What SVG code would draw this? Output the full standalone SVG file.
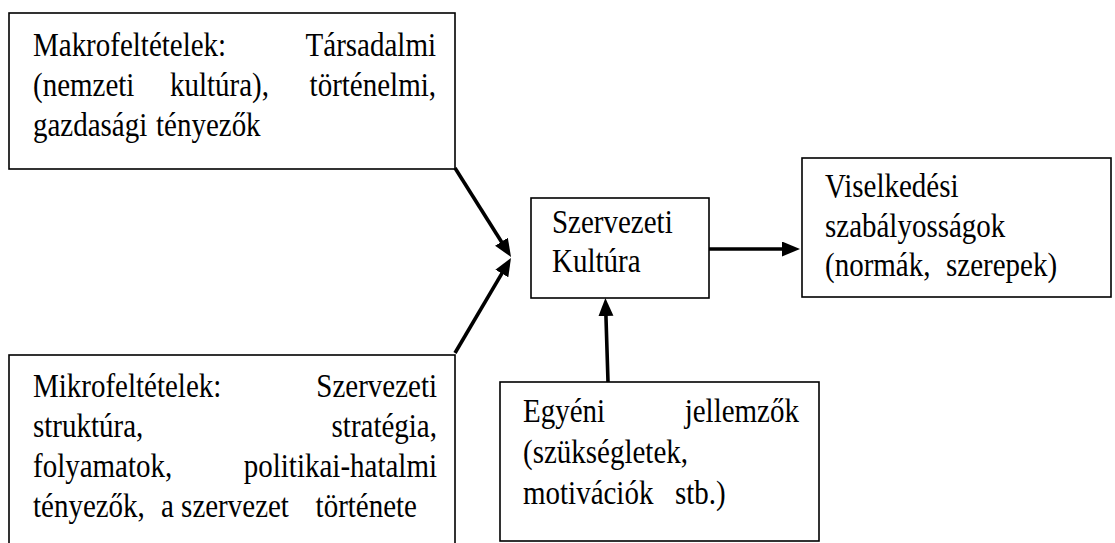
<svg xmlns="http://www.w3.org/2000/svg" width="1115" height="543" viewBox="0 0 1115 543">
<style>
.box{fill:#fff;stroke:#000;stroke-width:1.6}
.t{font-family:"Liberation Serif","Times New Roman",serif;font-size:29px;fill:#000}
.c{stroke:#000;stroke-width:3.6;fill:none}
</style>
<defs>
<marker id="ah" markerUnits="userSpaceOnUse" markerWidth="19" markerHeight="16" refX="8" refY="7.5" orient="auto">
<path d="M0,0 L18,7.5 L0,15 z" fill="#000"/>
</marker>
</defs>
<rect width="1115" height="543" fill="#fff"/>
<g id="connectors">
<line class="c" x1="455" y1="168" x2="505.7" y2="248.5" marker-end="url(#ah)"/>
<line class="c" x1="455" y1="353" x2="505.9" y2="266.6" marker-end="url(#ah)"/>
<line class="c" x1="709" y1="249" x2="790" y2="249" marker-end="url(#ah)"/>
<line class="c" x1="608" y1="382" x2="605.7" y2="308" marker-end="url(#ah)"/>
</g>
<g id="makro">
<rect class="box" x="9" y="13" width="446" height="156"/>
<text class="t" transform="matrix(1,0,0,1.18,0,56)"><tspan x="33">Makrofeltételek:</tspan><tspan x="436" text-anchor="end">Társadalmi</tspan></text>
<text class="t" transform="matrix(1,0,0,1.18,0,96)"><tspan x="33">(nemzeti</tspan><tspan x="170">kultúra),</tspan><tspan x="436" text-anchor="end">történelmi,</tspan></text>
<text class="t" transform="matrix(1,0,0,1.18,0,136)"><tspan x="33">gazdasági</tspan><tspan x="156">tényezők</tspan></text>
</g>
<g id="mikro">
<rect class="box" x="9" y="355" width="446" height="200"/>
<text class="t" transform="matrix(1,0,0,1.18,0,397)"><tspan x="33">Mikrofeltételek:</tspan><tspan x="437" text-anchor="end">Szervezeti</tspan></text>
<text class="t" transform="matrix(1,0,0,1.18,0,437)"><tspan x="33">struktúra,</tspan><tspan x="437" text-anchor="end">stratégia,</tspan></text>
<text class="t" transform="matrix(1,0,0,1.18,0,477)"><tspan x="33">folyamatok,</tspan><tspan x="437" text-anchor="end">politikai-hatalmi</tspan></text>
<text class="t" transform="matrix(1,0,0,1.18,0,517)"><tspan x="33">tényezők,</tspan><tspan x="161">a szervezet</tspan><tspan x="417" text-anchor="end">története</tspan></text>
</g>
<g id="szervezeti">
<rect class="box" x="531" y="198" width="178" height="100"/>
<text class="t" transform="matrix(1,0,0,1.18,0,233)"><tspan x="552">Szervezeti</tspan></text>
<text class="t" transform="matrix(1,0,0,1.18,0,272)"><tspan x="552">Kultúra</tspan></text>
</g>
<g id="viselkedesi">
<rect class="box" x="802" y="158" width="309" height="139"/>
<text class="t" transform="matrix(1,0,0,1.18,0,197)"><tspan x="825">Viselkedési</tspan></text>
<text class="t" transform="matrix(1,0,0,1.18,0,237)"><tspan x="825">szabályosságok</tspan></text>
<text class="t" transform="matrix(1,0,0,1.18,0,276)"><tspan x="825">(normák,</tspan><tspan x="946">szerepek)</tspan></text>
</g>
<g id="egyeni">
<rect class="box" x="500" y="382" width="319" height="159"/>
<text class="t" transform="matrix(1,0,0,1.18,0,422)"><tspan x="523">Egyéni</tspan><tspan x="799" text-anchor="end">jellemzők</tspan></text>
<text class="t" transform="matrix(1,0,0,1.18,0,463)"><tspan x="523">(szükségletek,</tspan></text>
<text class="t" transform="matrix(1,0,0,1.18,0,504)"><tspan x="523">motivációk</tspan><tspan x="675">stb.)</tspan></text>
</g>
</svg>
